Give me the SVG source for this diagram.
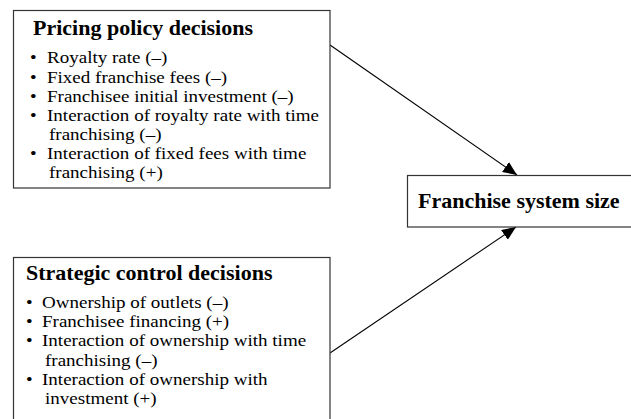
<svg xmlns="http://www.w3.org/2000/svg" width="631" height="419" viewBox="0 0 631 419">
  <style>
    .box { fill: #fff; stroke: #333; stroke-width: 1.2; }
    .title { font-family: "Liberation Serif", "Times New Roman", serif; font-weight: bold; font-size: 22px; fill: #000; }
    .item { font-family: "Liberation Serif", "Times New Roman", serif; font-size: 17px; fill: #000; }
    .conn { stroke: #000; stroke-width: 1.1; fill: none; marker-end: url(#ah); }
  </style>
  <defs>
    <marker id="ah" markerUnits="userSpaceOnUse" markerWidth="16" markerHeight="14" refX="14" refY="6" orient="auto">
      <path d="M0,0 L14,6 L0,12 Z" fill="#000"/>
    </marker>
  </defs>
  <rect width="631" height="419" fill="#fff"/>

  <g id="connectors">
    <line class="conn" x1="330" y1="45" x2="517" y2="175"/>
    <line class="conn" x1="330" y1="353" x2="516" y2="227"/>
  </g>

  <g id="pricing">
    <rect class="box" x="13.5" y="10.5" width="316.5" height="177.5"/>
    <text class="title" x="33" y="35">Pricing policy decisions</text>
    <text class="item" transform="translate(30,63) scale(1.12,1)">•</text>
    <text class="item" transform="translate(47,63) scale(1.12,1)">Royalty rate (–)</text>
    <text class="item" transform="translate(30,83) scale(1.12,1)">•</text>
    <text class="item" transform="translate(47,83) scale(1.12,1)">Fixed franchise fees (–)</text>
    <text class="item" transform="translate(30,101.5) scale(1.12,1)">•</text>
    <text class="item" transform="translate(47,101.5) scale(1.12,1)">Franchisee initial investment (–)</text>
    <text class="item" transform="translate(30,120.5) scale(1.12,1)">•</text>
    <text class="item" transform="translate(47,120.5) scale(1.12,1)">Interaction of royalty rate with time</text>
    <text class="item" transform="translate(49,139.5) scale(1.12,1)">franchising (–)</text>
    <text class="item" transform="translate(30,158.5) scale(1.12,1)">•</text>
    <text class="item" transform="translate(47,158.5) scale(1.12,1)">Interaction of fixed fees with time</text>
    <text class="item" transform="translate(49,177.5) scale(1.12,1)">franchising (+)</text>
  </g>

  <g id="strategic">
    <rect class="box" x="13.5" y="257.5" width="316.5" height="200"/>
    <text class="title" x="26" y="280">Strategic control decisions</text>
    <text class="item" transform="translate(26,308) scale(1.12,1)">•</text>
    <text class="item" transform="translate(42,308) scale(1.12,1)">Ownership of outlets (–)</text>
    <text class="item" transform="translate(26,327) scale(1.12,1)">•</text>
    <text class="item" transform="translate(42,327) scale(1.12,1)">Franchisee financing (+)</text>
    <text class="item" transform="translate(26,346) scale(1.12,1)">•</text>
    <text class="item" transform="translate(42,346) scale(1.12,1)">Interaction of ownership with time</text>
    <text class="item" transform="translate(45,365.5) scale(1.12,1)">franchising (–)</text>
    <text class="item" transform="translate(26,384.5) scale(1.12,1)">•</text>
    <text class="item" transform="translate(42,384.5) scale(1.12,1)">Interaction of ownership with</text>
    <text class="item" transform="translate(45,403.5) scale(1.12,1)">investment (+)</text>
  </g>

  <g id="size">
    <rect class="box" x="407.5" y="175.5" width="240" height="51.5"/>
    <text class="title" x="418" y="208">Franchise system size</text>
  </g>
</svg>
